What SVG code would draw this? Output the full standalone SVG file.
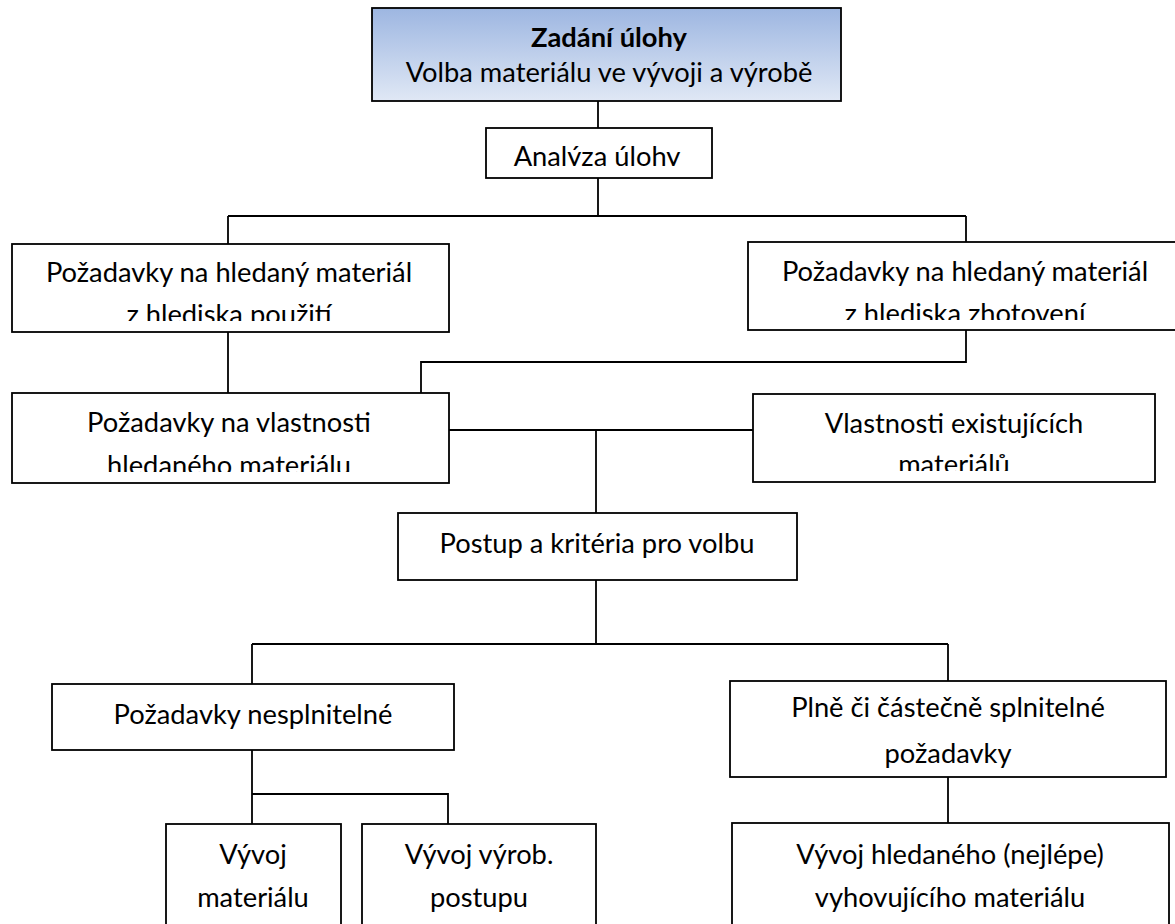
<svg xmlns="http://www.w3.org/2000/svg" width="1175" height="924" viewBox="0 0 1175 924">
  <style>
    .box { fill: #ffffff; stroke: #000000; stroke-width: 1.8; }
    .head { fill: url(#headFill); stroke: #000000; stroke-width: 1.8; }
    .wire { fill: none; stroke: #000000; stroke-width: 1.8; }
    text { font-family: Lato, "Open Sans", "Noto Sans", sans-serif; font-size: 27.3px; fill: #000000; text-anchor: middle; }
    .bold { font-weight: bold; }
  </style>
  <defs>
    <linearGradient id="headFill" x1="0" y1="0" x2="0" y2="1">
      <stop offset="0" stop-color="#9db6e1"/>
      <stop offset="1" stop-color="#e0e8f5"/>
    </linearGradient>
    <!-- inner text areas: lower lines are cut off by the box padding -->
    <clipPath id="clipAnalyza"><rect x="486" y="128" width="226" height="38"/></clipPath>
    <clipPath id="clipPouziti"><rect x="12" y="244" width="437" height="77"/></clipPath>
    <clipPath id="clipZhotoveni"><rect x="748" y="242" width="436" height="78"/></clipPath>
    <clipPath id="clipVlastHled"><rect x="12" y="393" width="437" height="79"/></clipPath>
    <clipPath id="clipVlastExist"><rect x="753" y="394" width="402" height="77"/></clipPath>
  </defs>

  <g id="connectors">
    <path class="wire" d="M598 101 V128"/>
    <path class="wire" d="M598 178 V216 M228 216 H966 M228 216 V244 M966 216 V242"/>
    <path class="wire" d="M228 332 V393"/>
    <path class="wire" d="M966 330 V362 H421 V393"/>
    <path class="wire" d="M449 430 H753 M596 430 V513"/>
    <path class="wire" d="M596 580 V644 M252 644 H948 M252 644 V684 M948 644 V681"/>
    <path class="wire" d="M252 750 V824 M252 794 H448 V824"/>
    <path class="wire" d="M948 777 V823"/>
  </g>

  <g id="zadani">
    <rect class="head" x="372" y="8" width="469" height="93"/>
    <text class="bold" x="609" y="47">Zadání úlohy</text>
    <text x="609" y="82">Volba materiálu ve vývoji a výrobě</text>
  </g>

  <g id="analyza">
    <rect class="box" x="486" y="128" width="226" height="50"/>
    <text x="597" y="166" clip-path="url(#clipAnalyza)">Analýza úlohy</text>
  </g>

  <g id="pozadavky-pouziti">
    <rect class="box" x="12" y="244" width="437" height="88"/>
    <g clip-path="url(#clipPouziti)">
      <text x="229" y="282">Požadavky na hledaný materiál</text>
      <text x="229" y="324">z hlediska použití</text>
    </g>
  </g>

  <g id="pozadavky-zhotoveni">
    <rect class="box" x="748" y="242" width="436" height="88"/>
    <g clip-path="url(#clipZhotoveni)">
      <text x="965" y="281">Požadavky na hledaný materiál</text>
      <text x="965" y="323">z hlediska zhotovení</text>
    </g>
  </g>

  <g id="pozadavky-vlastnosti">
    <rect class="box" x="12" y="393" width="437" height="90"/>
    <g clip-path="url(#clipVlastHled)">
      <text x="229" y="432">Požadavky na vlastnosti</text>
      <text x="229" y="475">hledaného materiálu</text>
    </g>
  </g>

  <g id="vlastnosti-existujicich">
    <rect class="box" x="753" y="394" width="402" height="88"/>
    <g clip-path="url(#clipVlastExist)">
      <text x="954" y="433">Vlastnosti existujících</text>
      <text x="954" y="474">materiálů</text>
    </g>
  </g>

  <g id="postup">
    <rect class="box" x="398" y="513" width="399" height="67"/>
    <text x="597" y="553">Postup a kritéria pro volbu</text>
  </g>

  <g id="nesplnitelne">
    <rect class="box" x="52" y="684" width="402" height="66"/>
    <text x="253" y="724">Požadavky nesplnitelné</text>
  </g>

  <g id="splnitelne">
    <rect class="box" x="730" y="681" width="436" height="96"/>
    <text x="948" y="717">Plně či částečně splnitelné</text>
    <text x="948" y="763">požadavky</text>
  </g>

  <g id="vyvoj-materialu">
    <rect class="box" x="166" y="824" width="175" height="120"/>
    <text x="253" y="864">Vývoj</text>
    <text x="253" y="907">materiálu</text>
  </g>

  <g id="vyvoj-postupu">
    <rect class="box" x="362" y="824" width="234" height="120"/>
    <text x="479" y="864">Vývoj výrob.</text>
    <text x="479" y="907">postupu</text>
  </g>

  <g id="vyvoj-hledaneho">
    <rect class="box" x="732" y="823" width="437" height="120"/>
    <text x="950" y="864">Vývoj hledaného (nejlépe)</text>
    <text x="950" y="907">vyhovujícího materiálu</text>
  </g>
</svg>
